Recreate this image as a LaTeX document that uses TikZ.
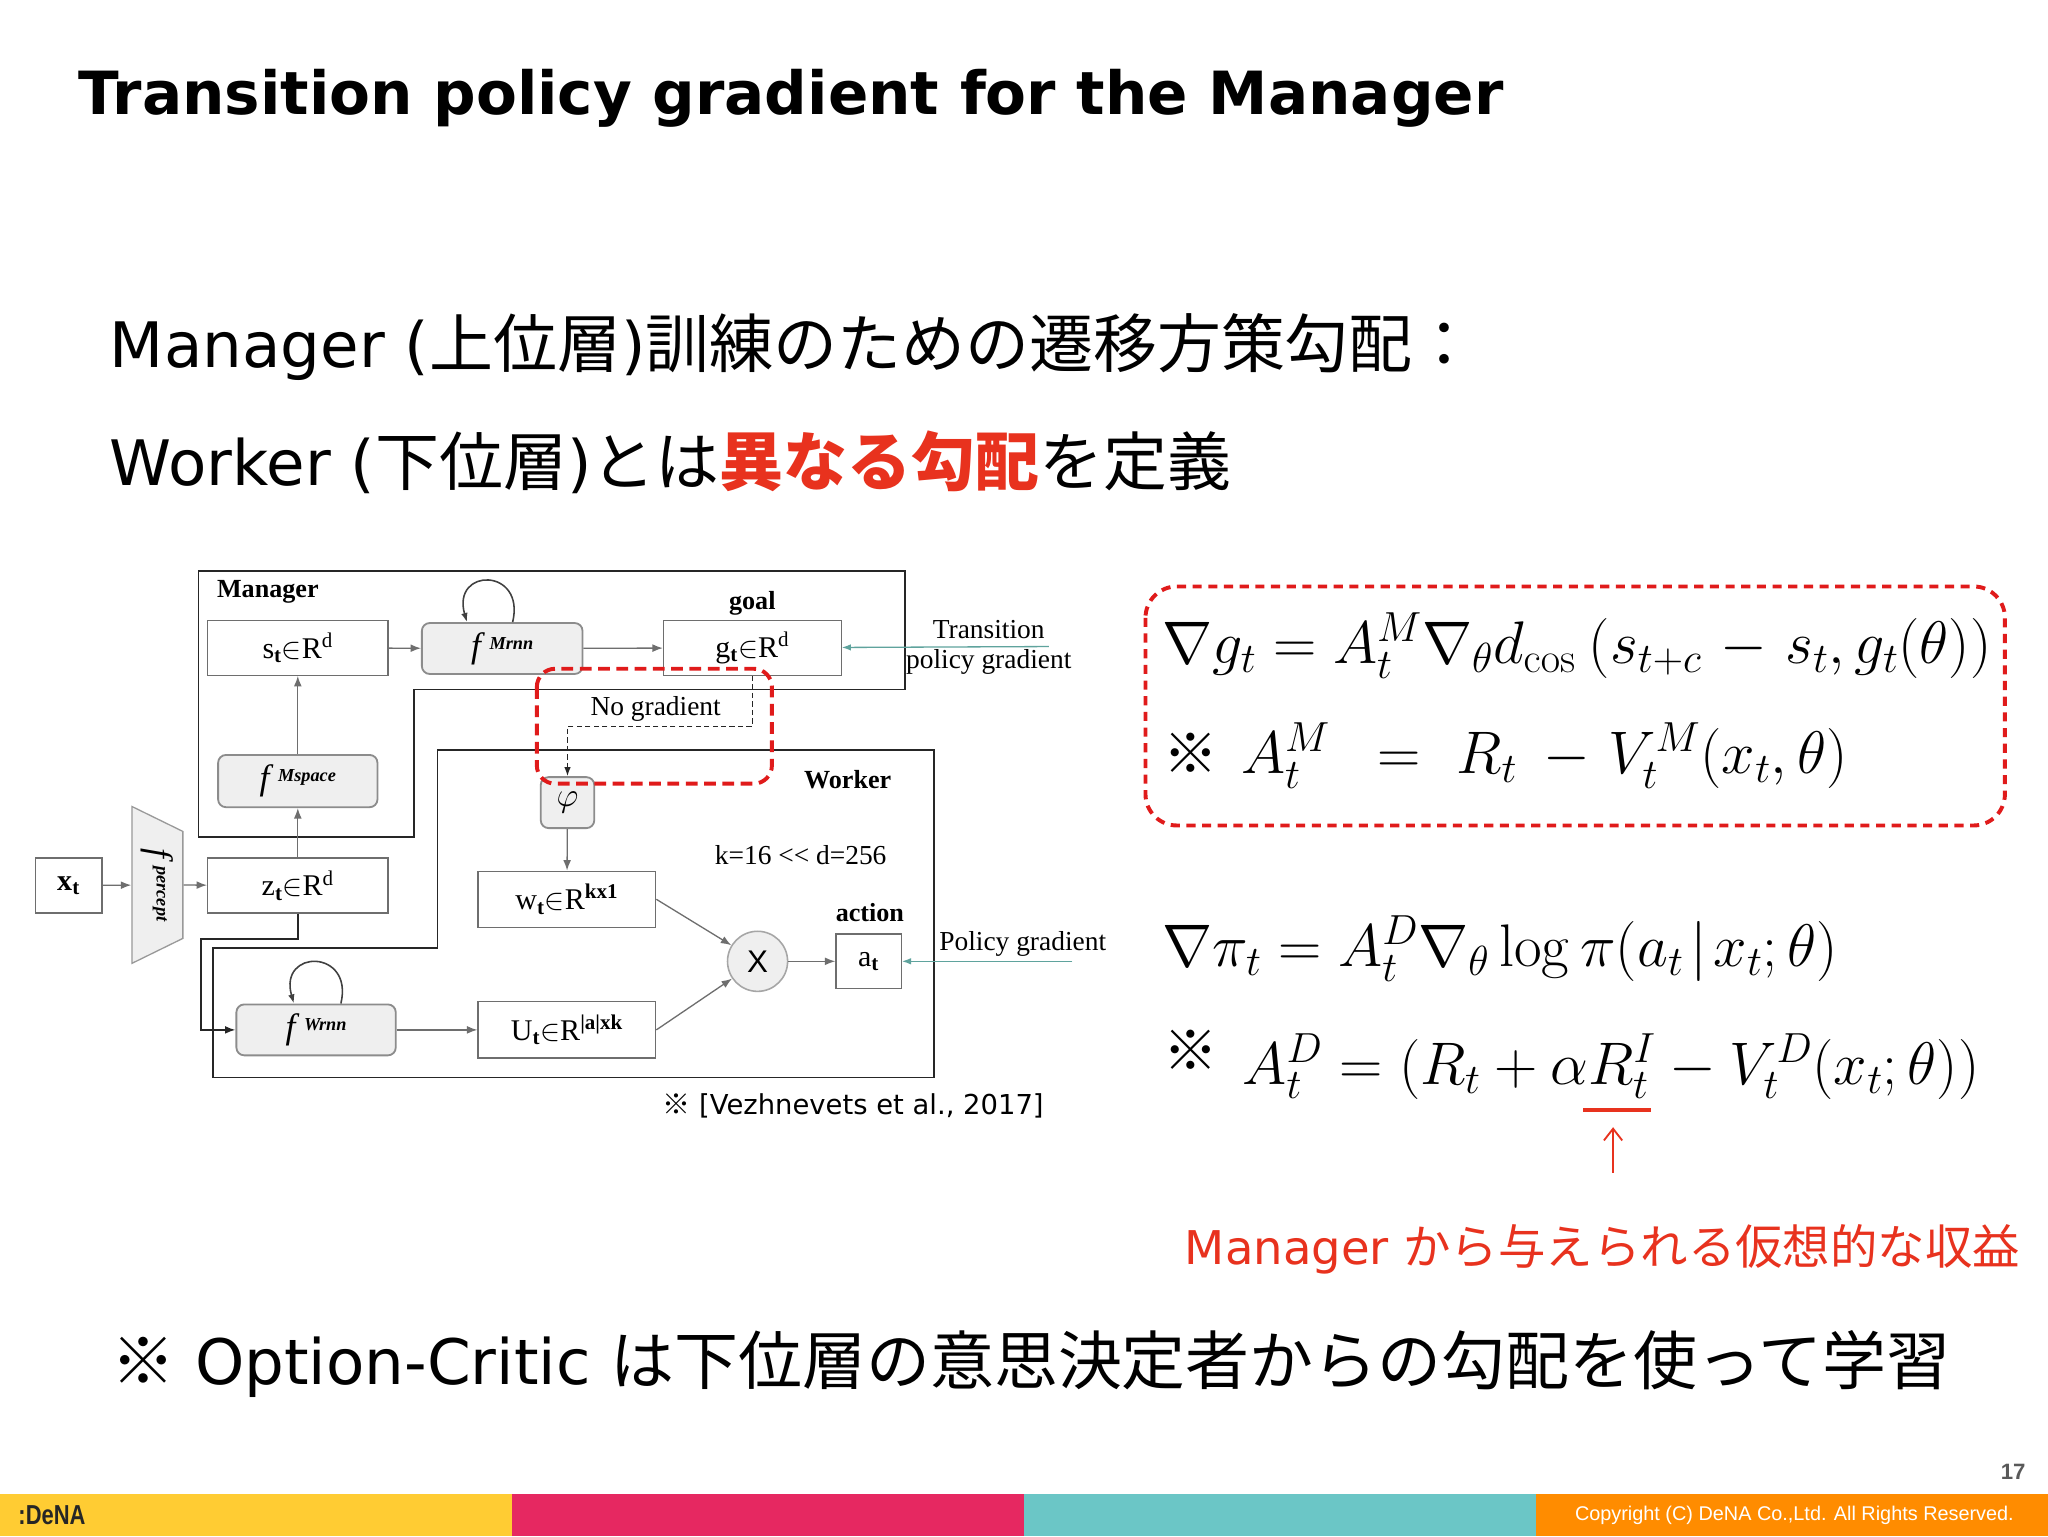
\documentclass[tikz,border=0pt]{standalone}
\usepackage{fix-cm}
\usepackage{amsmath,amsfonts,amssymb}
\usepackage[no-math]{fontspec}
\usepackage{tikz}
\usetikzlibrary{arrows.meta,shapes.geometric}
\setmainfont{DejaVu Sans}
\newfontfamily\jp[Scale=1.02]{Noto Sans CJK JP}
\newfontfamily\dgm{Liberation Serif}
\newfontfamily\arl{Liberation Sans}
\newcommand{\fs}[1]{\fontsize{#1}{#1}\selectfont}
\newcommand{\ffn}[1]{{\fs{27}\textit{f}}\,\raisebox{6pt}{\fs{14}\textit{\textbf{#1}}}}
\definecolor{dnared}{HTML}{E8321E}
\definecolor{dashred}{HTML}{E01B1B}
\definecolor{boxgrey}{HTML}{EFEFEF}
\definecolor{tipgrey}{HTML}{6E6E6E}
\definecolor{arrowteal}{HTML}{5FA39D}
\definecolor{barA}{HTML}{FFCC33}
\definecolor{barB}{HTML}{E62861}
\definecolor{barC}{HTML}{6BC6C6}
\definecolor{barD}{HTML}{FF8C00}
\tikzset{
  box/.style={draw=tipgrey, line width=1pt, fill=white, inner sep=0pt, font=\dgm\fs{23}},
  fbox/.style={draw=black!45, line width=1.4pt, fill=boxgrey, rounded corners=6pt, inner sep=0pt, font=\dgm\fs{21}},
  frame/.style={draw=black!85, line width=1.2pt},
  link/.style={draw=tipgrey, line width=1pt, -{Latex[length=8pt,width=6pt]}},
  blackline/.style={draw=black!85, line width=1.2pt, -{Latex[length=8pt,width=6pt]}},
  teal/.style={draw=arrowteal, line width=1pt, -{Latex[length=7pt,width=5pt]}},
  nogradline/.style={draw=black!85, line width=1.1pt, dash pattern=on 4pt off 2.5pt, -{Latex[length=7pt,width=5pt]}},
  selfloop/.style={draw=black!75, line width=1.2pt, -{Latex[length=7pt,width=5pt]}},
  reddash/.style={draw=dashred, line width=3pt, dash pattern=on 9pt off 5pt, rounded corners=14pt},
  lbl/.style={inner sep=0pt, font=\dgm\fs{21}},
  boldlbl/.style={inner sep=0pt, font=\dgm\bfseries\fs{20}},
  bodytext/.style={anchor=base west, inner sep=0pt, font=\fs{48}},
  formula/.style={anchor=base west, inner sep=0pt, font=\fs{46}},
  notemark/.style={inner sep=0pt, font=\jp\bfseries\fs{41}}
}
\begin{document}
\begin{tikzpicture}[x=1pt, y=-1pt]
\useasboundingbox (0,0) rectangle (1568,1176);
\fill[white] (0,0) rectangle (1568,1176);
\node[anchor=base west, inner sep=0pt, font=\bfseries\fs{45.6}] (title) at (60,88) {Transition policy gradient for the Manager};
\node[bodytext] (line1) at (84,281) {Manager ({\jp 上位層}){\jp 訓練のための遷移方策勾配：}};
\node[bodytext] (line2) at (84,372) {Worker ({\jp 下位層}){\jp とは\textcolor{dnared}{\bfseries 異なる勾配}を定義}};
\node[bodytext] (line3) at (85,1060) {{\jp ※} Option-Critic {\jp は下位層の意思決定者からの勾配を使って学習}};
\draw[frame] (152,437) -- (693,437) -- (693,528) -- (317,528) -- (317,641) -- (152,641) -- cycle;
\draw[frame] (163,825) -- (715,825) -- (715,574) -- (335,574) -- (335,726) -- (163,726) -- cycle;
\node[boldlbl, anchor=west] (manager) at (166,453) {Manager};
\node[boldlbl] (worker) at (649,597) {Worker};
\node[boldlbl] (goal) at (576,462) {goal};
\node[boldlbl] (action) at (666,699) {action};
\node[box, minimum width=138pt, minimum height=42pt] (st) at (228,496) {s\textsubscript{\textbf{t}}$\in$R\textsuperscript{d}};
\node[fbox, minimum width=123pt, minimum height=39pt] (fmrnn) at (384.5,496.5) {\ffn{Mrnn}};
\node[box, minimum width=136pt, minimum height=42pt] (gt) at (576,496) {g\textsubscript{\textbf{t}}$\in$R\textsuperscript{d}};
\node[fbox, minimum width=122pt, minimum height=40pt] (fmspace) at (228,598) {\ffn{Mspace}};
\node[box, minimum width=138pt, minimum height=42pt] (zt) at (228,678) {z\textsubscript{\textbf{t}}$\in$R\textsuperscript{d}};
\node[box, minimum width=51pt, minimum height=42pt] (xt) at (52.5,678) {\textbf{x}\textsubscript{\textbf{t}}};
\node[draw=black!40, line width=1pt, fill=boxgrey, trapezium, rotate=-90, trapezium stretches=true, trapezium angle=62, minimum width=121pt, minimum height=39pt, inner sep=0pt, font=\dgm\fs{21}] (percept) at (120.5,677.5) {\ffn{percept}};
\node[fbox, minimum width=122pt, minimum height=39pt] (fwrnn) at (242,788.5) {\ffn{Wrnn}};
\node[box, minimum width=136pt, minimum height=43pt] (wt) at (434,688.5) {w\textsubscript{\textbf{t}}$\in$R\textsuperscript{\textbf{kx1}}};
\node[box, minimum width=136pt, minimum height=43pt] (ut) at (434,788.5) {U\textsubscript{\textbf{t}}$\in$R\textsuperscript{\textbf{|a|xk}}};
\node[fbox, minimum width=41pt, minimum height=39pt, font=\fs{26}] (phi) at (434.5,614.5) {$\varphi$};
\node[draw=black!35, line width=1.2pt, fill=boxgrey, circle, minimum size=46pt, inner sep=0pt, font=\arl\fs{24}] (mult) at (580,736) {X};
\node[box, minimum width=50pt, minimum height=42pt] (at) at (665,736) {a\textsubscript{\textbf{t}}};
\node[lbl] (nograd) at (502,543) {No gradient};
\node[lbl] (kd) at (613,655) {k=16 << d=256};
\node[lbl] (trans1) at (757,482) {Transition};
\node[lbl] (trans2) at (757,507) {policy gradient};
\node[lbl] (polgrad) at (783,723) {Policy gradient};
\coordinate (transend) at (803,495);
\coordinate (polend) at (821,736);
\coordinate (zdrop) at (154,719);
\coordinate (ngturn) at (576,556);
\draw[link] (xt) -- (percept);
\draw[link] (percept) -- (zt);
\draw[link] (zt) -- (fmspace);
\draw[link] (fmspace) -- (st);
\draw[link] (st) -- (fmrnn);
\draw[link] (fmrnn) -- (gt);
\draw[link] (phi) -- (wt);
\draw[link] (fwrnn) -- (ut);
\draw[link] (wt.east) -- (mult);
\draw[link] (ut.east) -- (mult);
\draw[link] (mult) -- (at);
\draw[teal] (transend) -- (gt);
\draw[teal] (polend) -- (at);
\draw[blackline] (zt.south) |- (zdrop) |- (fwrnn.west);
\draw[nogradline] (gt.south) -- (ngturn) -| (phi.north);
\draw[selfloop] ([xshift=8pt]fmrnn.north) .. controls +(10,-42) and +(-12,-42) .. ([xshift=-27pt]fmrnn.north);
\draw[selfloop] ([xshift=19pt]fwrnn.north) .. controls +(10,-42) and +(-12,-42) .. ([xshift=-17pt]fwrnn.north);
\draw[reddash] (411,512) rectangle (591,600);
\node[anchor=west, inner sep=0pt, font=\fs{21}] (cite) at (507,847) {{\jp ※} [Vezhnevets et al., 2017]};
\draw[reddash, dash pattern=on 7pt off 5pt, rounded corners=24pt] (877,449) rectangle (1535,632);
\node[formula] (eqone) at (890,508) {$\nabla g_t = A_t^M \nabla_\theta d_{\cos}\hspace{10pt}(s_{t+c}\hspace{4pt} - \hspace{4pt}s_t, g_t(\theta))$};
\node[notemark] (noteone) at (912,577) {※};
\node[formula] (eqtwo) at (950,592) {$A_t^M\hspace{36pt}{=}\hspace{28pt}R_t\hspace{20pt}{-}\hspace{14pt}V_t^M(x_t,\theta)$};
\node[formula] (eqthree) at (890,740) {$\nabla \pi_t = A_t^D \nabla_\theta \log \pi(a_t\mkern2mu|\mkern2mu x_t;\theta)$};
\node[notemark] (notetwo) at (912,804) {※};
\node[formula] (eqfour) at (951,830) {$A_t^D = (R_t + \alpha R_t^I - V_t^D(x_t;\theta))$};
\coordinate (ulstart) at (1212,850);
\coordinate (ulend) at (1264,850);
\draw[draw=dnared, line width=3pt] (ulstart) -- (ulend);
\coordinate (upstart) at (1235,898);
\coordinate (upend) at (1235,863);
\draw[draw=dnared, line width=1.4pt, -{Straight Barb[length=9pt,width=14pt]}] (upstart) -- (upend);
\node[anchor=base west, inner sep=0pt, text=dnared, font=\fs{35.6}] (mgrnote) at (907,968) {Manager {\jp から与えられる仮想的な収益}};
\fill[barA] (0,1144) rectangle (392,1176);
\fill[barB] (392,1144) rectangle (784,1176);
\fill[barC] (784,1144) rectangle (1176,1176);
\fill[barD] (1176,1144) rectangle (1568,1176);
\node[anchor=west, inner sep=0pt, xscale=0.8, font=\arl\bfseries\fs{21}, text=black!85] (logo) at (14,1160) {:DeNA};
\node[anchor=east, inner sep=0pt, font=\arl\fs{15.2}, text=white] (copyright) at (1542,1160) {Copyright (C) DeNA Co.,Ltd. All Rights Reserved.};
\node[anchor=east, inner sep=0pt, font=\arl\bfseries\fs{17}, text=black!65] (pagenum) at (1551,1127) {17};
\end{tikzpicture}
\end{document}
